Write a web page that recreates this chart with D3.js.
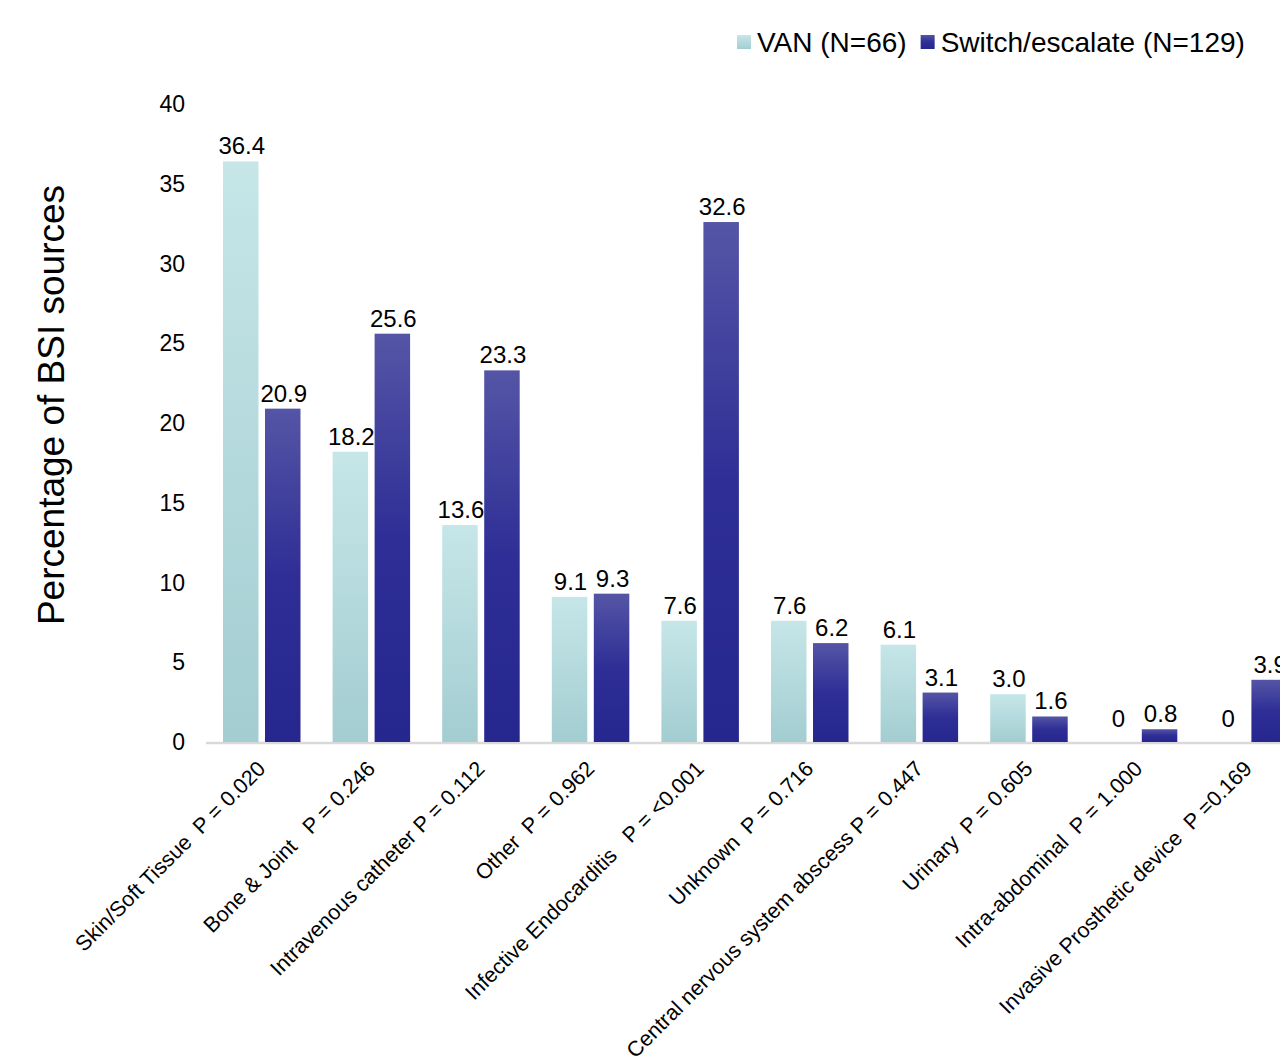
<!DOCTYPE html>
<head>
<meta charset="utf-8">
<script src="https://d3js.org/d3.v7.min.js"></script>
<style>
  body { margin: 0; background: #fff; }
  svg { display: block; font-family: "Liberation Sans", Arial, sans-serif; }
</style>
</head>
<body>
<script>
  // data
  const categories = [
    "Skin/Soft Tissue  P = 0.020",
    "Bone & Joint   P = 0.246",
    "Intravenous catheter P = 0.112",
    "Other  P = 0.962",
    "Infective Endocarditis   P = <0.001",
    "Unknown  P = 0.716",
    "Central nervous system abscess P = 0.447",
    "Urinary  P = 0.605",
    "Intra-abdominal  P = 1.000",
    "Invasive Prosthetic device  P =0.169"
  ];
  const series = ["VAN (N=66)", "Switch/escalate (N=129)"];
  const vanValues = [36.4, 18.2, 13.6, 9.1, 7.6, 7.6, 6.1, 3.0, 0, 0];
  const switchValues = [20.9, 25.6, 23.3, 9.3, 32.6, 6.2, 3.1, 1.6, 0.8, 3.9];
  const yTicks = [0, 5, 10, 15, 20, 25, 30, 35, 40];

  const width = 1280, height = 1056;

  const rows = categories.map((c, i) => ({ cat: c, values: [vanValues[i], switchValues[i]] }));

  const svg = d3.select("body").append("svg")
    .attr("width", width)
    .attr("height", height);

  const defs = svg.append("defs");
  const gradVan = defs.append("linearGradient").attr("id", "gVan")
    .attr("x1", 0).attr("y1", 0).attr("x2", 0).attr("y2", 1);
  gradVan.append("stop").attr("offset", "0%").attr("stop-color", "#c6e6e8");
  gradVan.append("stop").attr("offset", "100%").attr("stop-color", "#a3cdd1");
  const gradSw = defs.append("linearGradient").attr("id", "gSw")
    .attr("x1", 0).attr("y1", 0).attr("x2", 0).attr("y2", 1);
  gradSw.append("stop").attr("offset", "0%").attr("stop-color", "#5555a6");
  gradSw.append("stop").attr("offset", "50%").attr("stop-color", "#2e2e96");
  gradSw.append("stop").attr("offset", "100%").attr("stop-color", "#26268f");
  const fills = ["url(#gVan)", "url(#gSw)"];

  const y = d3.scaleLinear().domain([0, 40]).range([742, 104]);

  const x0 = d3.scaleBand().domain(categories).range([207, 1303]).padding(0);
  const x1 = d3.scaleBand().domain(series).range([16, 93.5]).paddingInner(0.155).paddingOuter(0);

  // y tick labels
  svg.append("g").selectAll("text")
    .data(yTicks)
    .join("text")
    .attr("x", 185)
    .attr("y", d => y(d))
    .attr("dy", "0.35em")
    .attr("text-anchor", "end")
    .attr("font-size", 23)
    .attr("fill", "#000")
    .text(d => d);

  // y title
  svg.append("text")
    .attr("transform", "translate(64,405) rotate(-90)")
    .attr("text-anchor", "middle")
    .attr("font-size", 37)
    .attr("fill", "#000")
    .text("Percentage of BSI sources");

  // baseline
  svg.append("line")
    .attr("x1", 206).attr("x2", 1303)
    .attr("y1", y(0) + 1).attr("y2", y(0) + 1)
    .attr("stroke", "#d9d9d9")
    .attr("stroke-width", 2.5);

  const groups = svg.append("g").selectAll("g")
    .data(rows)
    .join("g")
    .attr("transform", d => "translate(" + x0(d.cat) + ",0)");

  groups.selectAll("rect")
    .data(d => d.values.map((v, i) => ({ key: series[i], v: v, i: i })))
    .join("rect")
    .attr("x", d => x1(d.key))
    .attr("y", d => y(d.v))
    .attr("width", x1.bandwidth())
    .attr("height", d => y(0) - y(d.v))
    .attr("fill", d => fills[d.i]);

  groups.selectAll("text.val")
    .data(d => d.values.map((v, i) => ({ key: series[i], v: v, i: i })))
    .join("text")
    .attr("class", "val")
    .attr("x", d => x1(d.key) + x1.bandwidth() / 2 + 1)
    .attr("y", d => Math.min(y(d.v), y(0) - 8) - 7)
    .attr("text-anchor", "middle")
    .attr("font-size", 24)
    .attr("fill", "#000")
    .text(d => d.v === 0 ? "0" : d.v.toFixed(1));

  // rotated category labels
  svg.append("g").selectAll("text")
    .data(categories)
    .join("text")
    .attr("transform", d => "translate(" + (x0(d) + x0.bandwidth() / 2 + 5) + "," + (y(0) + 28) + ") rotate(-45)")
    .attr("text-anchor", "end")
    .attr("font-size", 21.5)
    .attr("fill", "#000")
    .style("white-space", "pre")
    .text(d => d);

  // legend
  const legend = svg.append("g");
  let lx = 737;
  series.forEach((s, i) => {
    legend.append("rect")
      .attr("x", lx).attr("y", 35)
      .attr("width", 14).attr("height", 14)
      .attr("fill", fills[i]);
    const t = legend.append("text")
      .attr("x", lx + 20).attr("y", 52)
      .attr("font-size", 28)
      .attr("fill", "#000")
      .text(s);
    lx += 20 + t.node().getComputedTextLength() + 14;
  });
</script>
</body>
